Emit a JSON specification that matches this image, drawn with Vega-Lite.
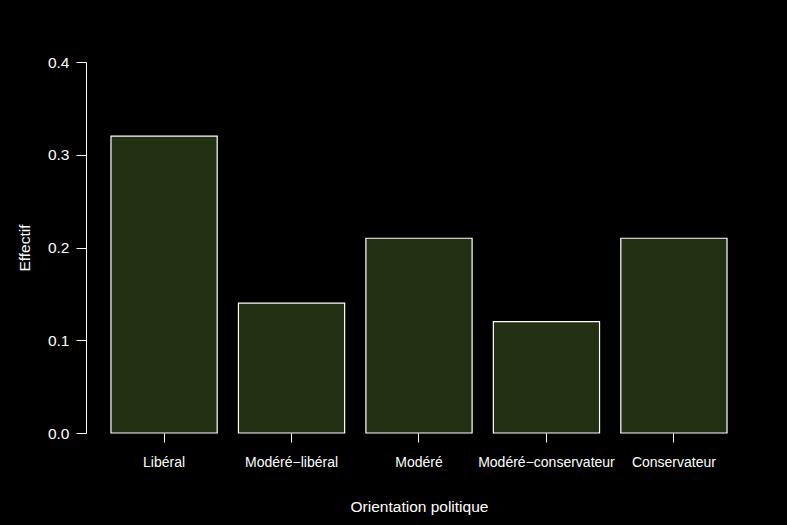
{
  "$schema": "https://vega.github.io/schema/vega-lite/v6.json",
  "width": 666,
  "height": 371,
  "autosize": {"type": "none"},
  "padding": {"left": 86, "top": 62, "right": 35, "bottom": 92},
  "background": "black",
  "config": {
    "view": {"stroke": null},
    "font": "Liberation Sans",
    "axis": {
      "labelColor": "white",
      "titleColor": "white",
      "tickColor": "white",
      "domainColor": "white",
      "grid": false,
      "titleFontWeight": "normal",
      "labelFont": "Liberation Sans",
      "titleFont": "Liberation Sans"
    }
  },
  "data": {
    "values": [
      {"orientation": "Libéral", "effectif": 0.32},
      {"orientation": "Modéré−libéral", "effectif": 0.14},
      {"orientation": "Modéré", "effectif": 0.21},
      {"orientation": "Modéré−conservateur", "effectif": 0.12},
      {"orientation": "Conservateur", "effectif": 0.21}
    ]
  },
  "mark": {"type": "bar", "fill": "#233013", "stroke": "white", "strokeWidth": 1.2},
  "encoding": {
    "x": {
      "field": "orientation",
      "type": "nominal",
      "sort": null,
      "title": "Orientation politique",
      "scale": {"paddingInner": 0.1667, "paddingOuter": 0.196},
      "axis": {
        "labelAngle": 0,
        "domain": false,
        "tickSize": 9,
        "labelFontSize": 14,
        "labelPadding": 13,
        "titleFontSize": 15.5,
        "titlePadding": 30
      }
    },
    "y": {
      "field": "effectif",
      "type": "quantitative",
      "title": "Effectif",
      "scale": {"domain": [0, 0.4], "nice": false},
      "axis": {
        "values": [0, 0.1, 0.2, 0.3, 0.4],
        "format": ".1f",
        "tickSize": 10,
        "labelFontSize": 15.5,
        "labelPadding": 7,
        "titleFontSize": 15.5,
        "titlePadding": 15
      }
    }
  }
}
